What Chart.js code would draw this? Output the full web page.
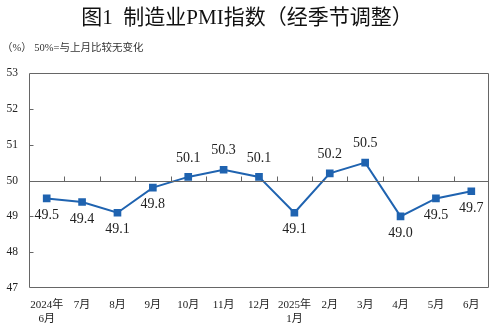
<!DOCTYPE html>
<html><head><meta charset="utf-8">
<script src="https://cdn.jsdelivr.net/npm/chart.js@4"></script>
<style>html,body{margin:0;padding:0;background:#fff}#wrap{width:495px;height:328px}</style>
</head><body><div id="wrap"><canvas id="c" width="495" height="328"></canvas></div>
<script>
const categories = [["2024年","6月"],"7月","8月","9月","10月","11月","12月",["2025年","1月"],"2月","3月","4月","5月","6月"];
const pmiValues = [49.5,49.4,49.1,49.8,50.1,50.3,50.1,49.1,50.2,50.5,49.0,49.5,49.7];
const yTicks = [47,48,49,50,51,52,53];
const titleText = "图1  制造业PMI指数（经季节调整）";
const noteText = "（%） 50%=与上月比较无变化";
const baseline = 50;

const serif = '"Liberation Serif","Noto Sans CJK SC",serif';
const lineColor = '#1f63b0';

const deco = {
  id:'deco',
  afterDraw(chart){
    const ctx = chart.ctx, a = chart.chartArea, x = chart.scales.x, y = chart.scales.y;
    ctx.save();
    // title
    ctx.fillStyle = '#111';
    ctx.font = '400 21px "Liberation Serif","Noto Sans CJK SC",serif';
    ctx.textAlign = 'center'; ctx.textBaseline = 'middle';
    ctx.fillText(titleText, 247, 18);
    ctx.font = '10.5px ' + serif;
    ctx.textAlign = 'left';
    ctx.fillStyle = '#333';
    ctx.fillText(noteText, 2, 48);
    // frame
    ctx.strokeStyle = '#666'; ctx.lineWidth = 1;
    const L = Math.round(a.left)+0.5, R = Math.round(a.right)-0.5, T = Math.round(a.top)+0.5, B = Math.round(a.bottom)-0.5;
    ctx.beginPath(); ctx.rect(L, T, R-L, B-T); ctx.stroke();
    // baseline
    const yb = Math.round(y.getPixelForValue(baseline))+0.5;
    ctx.beginPath(); ctx.moveTo(L, yb); ctx.lineTo(R, yb);
    for (let i=0;i<categories.length-1;i++){
      const xm = Math.round((x.getPixelForValue(i)+x.getPixelForValue(i+1))/2)+0.5;
      ctx.moveTo(xm, yb); ctx.lineTo(xm, yb-5);
    }
    yTicks.forEach(v=>{
      if (v===yTicks[0]||v===yTicks[yTicks.length-1]||v===baseline) return;
      const yy = Math.round(y.getPixelForValue(v))+0.5;
      ctx.moveTo(L, yy); ctx.lineTo(L+4, yy);
    });
    ctx.stroke();
    // data labels
    ctx.font = '14px ' + serif;
    ctx.fillStyle = '#222';
    ctx.textAlign = 'center'; ctx.textBaseline = 'middle';
    const meta = chart.getDatasetMeta(0);
    meta.data.forEach((pt,i)=>{
      const v = pmiValues[i];
      const dy = v >= baseline ? -19 : 17;
      ctx.fillText(v.toFixed(1), pt.x, pt.y + dy);
    });
    ctx.restore();
  }
};

new Chart(document.getElementById('c'), {
  type:'line',
  data:{labels:categories, datasets:[{data:pmiValues, borderColor:lineColor, backgroundColor:lineColor, borderWidth:2, pointStyle:'rect', pointRadius:4, tension:0}]},
  options:{
    responsive:false, animation:false,
    layout:{padding:{top:73,right:6,left:0,bottom:0}},
    plugins:{legend:{display:false}, tooltip:{enabled:false}},
    scales:{
      x:{offset:true, grid:{display:false, drawTicks:false}, border:{display:false},
         ticks:{padding:11, color:'#222', font:{family:serif, size:11}, maxRotation:0, autoSkip:false},
         afterFit(s){s.height = 40;}},
      y:{min:47, max:53, afterBuildTicks(s){s.ticks = yTicks.map(v=>({value:v}));},
         grid:{display:false, drawTicks:false}, border:{display:false},
         ticks:{padding:11, color:'#222', font:{family:serif, size:11.5}},
         afterFit(s){s.width = 29;}}
    }
  },
  plugins:[deco]
});
</script></body></html>
